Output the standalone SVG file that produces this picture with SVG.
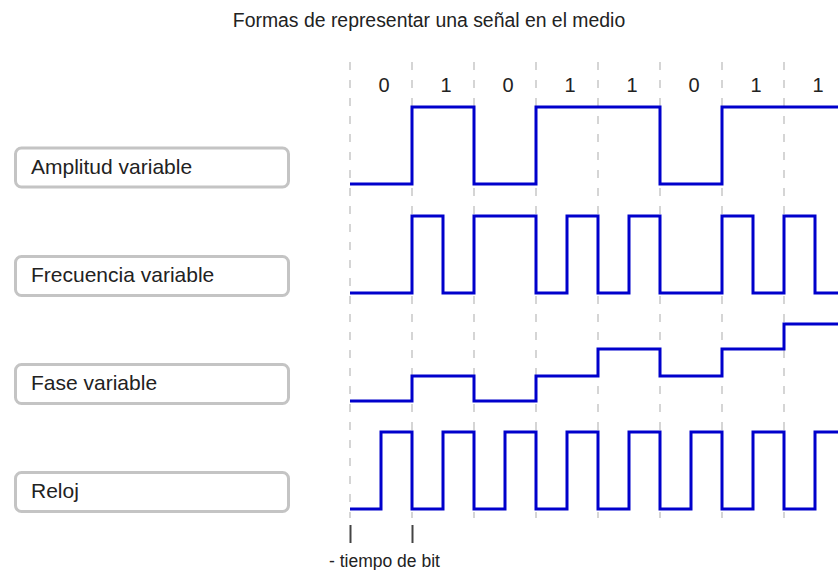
<svg xmlns="http://www.w3.org/2000/svg" width="838" height="570" viewBox="0 0 838 570">
<style>
.t{font-family:"Liberation Sans",Arial,sans-serif;fill:#222}
.title{font-size:19.4px}
.bit{font-size:20px;text-anchor:middle}
.lbl{font-size:21px}
.box{fill:#fff;stroke:#c4c4c4;stroke-width:3}
.grid line{stroke:#c8c8c8;stroke-width:1.5;stroke-dasharray:8 10}
.wave{fill:none;stroke:#0000cc;stroke-width:3;stroke-linejoin:miter}
.tick{stroke:#444;stroke-width:2}
</style>
<rect width="838" height="570" fill="#fff"/>
<text class="t title" x="429" y="27" text-anchor="middle">Formas de representar una señal en el medio</text>

<g id="grid" class="grid">
<line x1="350" y1="62" x2="350" y2="518"/>
<line x1="412" y1="62" x2="412" y2="518"/>
<line x1="474" y1="62" x2="474" y2="518"/>
<line x1="536" y1="62" x2="536" y2="518"/>
<line x1="598" y1="62" x2="598" y2="518"/>
<line x1="660" y1="62" x2="660" y2="518"/>
<line x1="722" y1="62" x2="722" y2="518"/>
<line x1="784" y1="62" x2="784" y2="518"/>
</g>

<g id="bits" class="t bit">
<text x="384" y="92">0</text>
<text x="446" y="92">1</text>
<text x="508" y="92">0</text>
<text x="570" y="92">1</text>
<text x="632" y="92">1</text>
<text x="694" y="92">0</text>
<text x="756" y="92">1</text>
<text x="818" y="92">1</text>
</g>

<g id="amplitud">
<rect class="box" x="15.5" y="148" width="273" height="39" rx="6"/>
<text class="t lbl" x="31" y="174">Amplitud variable</text>
</g>
<g id="frecuencia">
<rect class="box" x="15.5" y="256.5" width="273" height="39" rx="6"/>
<text class="t lbl" x="31" y="282">Frecuencia variable</text>
</g>
<g id="fase">
<rect class="box" x="15.5" y="364.5" width="273" height="39" rx="6"/>
<text class="t lbl" x="31" y="390">Fase variable</text>
</g>
<g id="reloj">
<rect class="box" x="15.5" y="472.5" width="273" height="39" rx="6"/>
<text class="t lbl" x="31" y="498">Reloj</text>
</g>

<g id="waves">
<path id="w-amplitud" class="wave" d="M350,184 H412 V107 H474 V184 H536 V107 H660 V184 H722 V107 H840"/>
<path id="w-frecuencia" class="wave" d="M350,293 H412 V216 H443 V293 H474 V216 H536 V293 H567 V216 H598 V293 H629 V216 H660 V293 H722 V216 H753 V293 H784 V216 H815 V293 H840"/>
<path id="w-fase" class="wave" d="M350,401 H412 V376 H474 V401 H536 V376 H598 V349 H660 V376 H722 V349 H784 V324 H840"/>
<path id="w-reloj" class="wave" d="M350,509 H381 V432 H412 V509 H443 V432 H474 V509 H505 V432 H536 V509 H567 V432 H598 V509 H629 V432 H660 V509 H691 V432 H722 V509 H753 V432 H784 V509 H815 V432 H840"/>
</g>

<g id="bit-time">
<line class="tick" x1="350.5" y1="525" x2="350.5" y2="543"/>
<line class="tick" x1="412.5" y1="525" x2="412.5" y2="543"/>
<text class="t" x="329" y="567" font-size="17.5">- tiempo de bit</text>
</g>
</svg>
